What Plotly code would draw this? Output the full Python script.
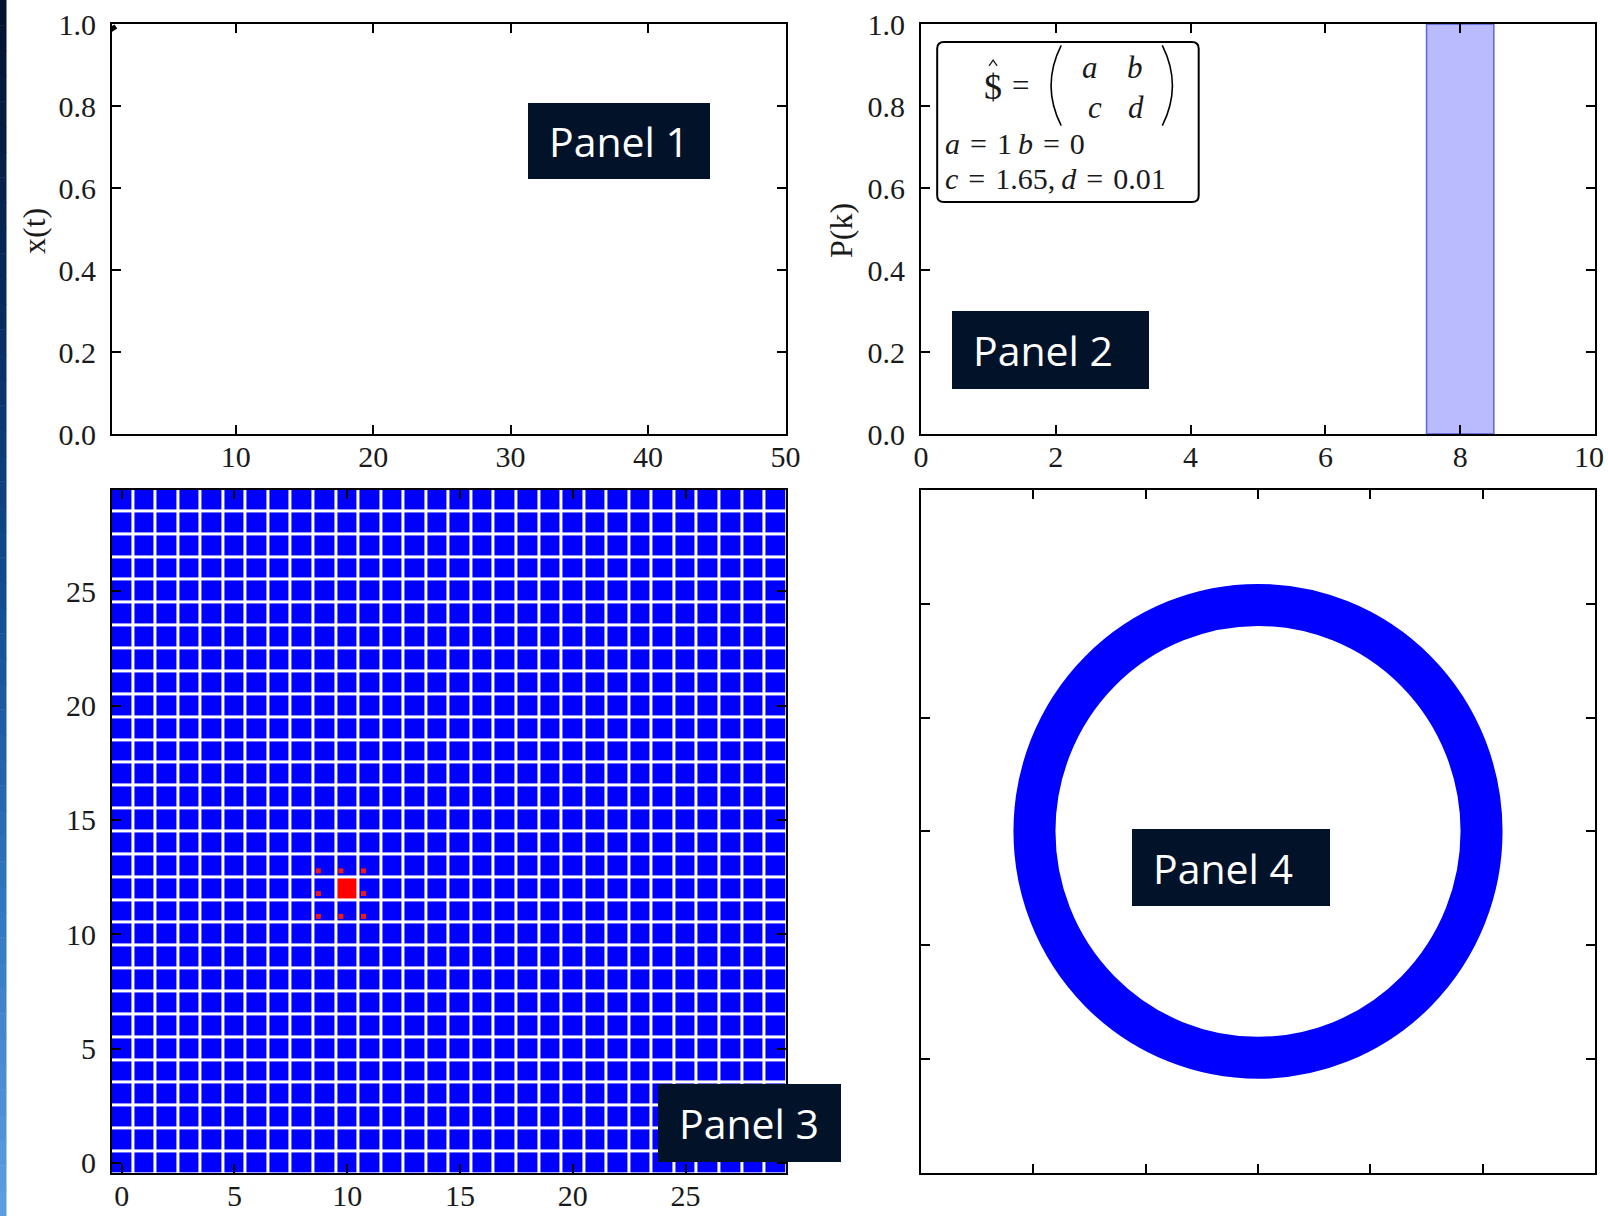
import numpy as np
import plotly.graph_objects as go

W, H = 1608, 1216

# ---- data -------------------------------------------------------------
# Panel 1: start of the trajectory x(t)
traj_t = [1.0, 1.2]
traj_x = [0.995, 0.985]
p1_xticks = [10, 20, 30, 40, 50]
p1_yticks = [0.0, 0.2, 0.4, 0.6, 0.8, 1.0]

# Panel 2: highlighted k band
band_k = [7.5, 8.5]
p2_xticks = [0, 2, 4, 6, 8, 10]
p2_yticks = [0.0, 0.2, 0.4, 0.6, 0.8, 1.0]

# Panel 3: lattice state (all sites 0, one active site)
grid_size = 30
active_site = [10, 12]
neigh_x = [8.72, 9.72, 10.72, 8.72, 10.72, 8.72, 9.72, 10.72]
neigh_y = [12.77, 12.77, 12.77, 11.78, 11.78, 10.78, 10.78, 10.78]
p3_ticks = [0, 5, 10, 15, 20, 25]

# Panel 4: circular orbit
ring_center = [0.0, 0.0]
ring_radius = 1.99
p4_ticks = [-2, -1, 0, 1, 2]

# ---- helpers ----------------------------------------------------------
SERIF = "Liberation Serif"
INK = "#1a1a1a"
TICKFONT = dict(family=SERIF, size=30, color=INK)


def px_x(p):
    return p / W


def px_y(p):
    return 1 - p / H


def axis(domain, anchor, rng, ticks, labels=True, fmt=None, standoff=0, text=None):
    d = dict(
        domain=domain, anchor=anchor, range=rng, automargin=False,
        showline=True, linecolor="black", linewidth=2, mirror="ticks",
        ticks="inside", ticklen=9, tickwidth=1.5, tickcolor="black",
        showgrid=False, zeroline=False, tickvals=ticks,
        showticklabels=labels, tickfont=TICKFONT,
        ticklabeloverflow="allow", ticklabelstandoff=standoff,
    )
    if fmt:
        d["tickformat"] = fmt
    if text is not None:
        d["ticktext"] = text
    return d


# panel boxes in pixels (left, right, top, bottom)
P_LEFT = (112, 785.5)
P_RIGHT = (921, 1595)
P_TOP = (24, 434)
P_BOT = (490, 1172.7)

dx_l = [px_x(P_LEFT[0]), px_x(P_LEFT[1])]
dx_r = [px_x(P_RIGHT[0]), px_x(P_RIGHT[1])]
dy_t = [px_y(P_TOP[1]), px_y(P_TOP[0])]
dy_b = [px_y(P_BOT[1]), px_y(P_BOT[0])]

XS, YS = -5, 8  # tick label offsets

# the last k label sits at the page edge, so it is placed as its own text
p2_xtext = [str(v) for v in p2_xticks[:-1]] + [""]

fig = go.Figure()

# Panel 1
fig.add_trace(go.Scatter(x=traj_t, y=traj_x, mode="lines",
                         line=dict(color="black", width=6),
                         xaxis="x", yaxis="y", showlegend=False))

# Panel 3 lattice
z = np.zeros((grid_size, grid_size))
z[active_site[1], active_site[0]] = 1.0
fig.add_trace(go.Heatmap(z=z, x=list(range(grid_size)), y=list(range(grid_size)),
                         colorscale=[[0, "#0000ff"], [1, "#ff0000"]],
                         zmin=0, zmax=1, showscale=False, xgap=3, ygap=3,
                         hoverinfo="skip", xaxis="x3", yaxis="y3"))
fig.add_trace(go.Scatter(x=neigh_x, y=neigh_y, mode="markers",
                         marker=dict(symbol="square", size=5, color="#f01818"),
                         xaxis="x3", yaxis="y3", showlegend=False))

# empty traces so that panels 2 and 4 get their axes
fig.add_trace(go.Scatter(x=[None], y=[None], xaxis="x2", yaxis="y2", showlegend=False))
fig.add_trace(go.Scatter(x=[None], y=[None], xaxis="x4", yaxis="y4", showlegend=False))

fig.update_layout(
    width=W, height=H, autosize=False,
    margin=dict(l=0, r=0, t=0, b=0, pad=0),
    paper_bgcolor="white", plot_bgcolor="white",
    showlegend=False,
    xaxis=axis(dx_l, "y", [1, 50], p1_xticks, standoff=XS),
    yaxis=axis(dy_t, "x", [0, 1], p1_yticks, fmt=".1f", standoff=YS),
    xaxis2=axis(dx_r, "y2", [0, 10], p2_xticks, standoff=XS, text=p2_xtext),
    yaxis2=axis(dy_t, "x2", [0, 1], p2_yticks, fmt=".1f", standoff=YS),
    xaxis3=axis(dx_l, "y3", [-0.43, 29.43], p3_ticks, standoff=XS),
    yaxis3=axis(dy_b, "x3", [-0.43, 29.43], p3_ticks, standoff=YS),
    xaxis4=axis(dx_r, "y4", [-3, 3], p4_ticks, labels=False),
    yaxis4=axis(dy_b, "x4", [-3, 3], p4_ticks, labels=False),
)

shapes = []

# band in panel 2
shapes.append(dict(type="rect", xref="x2", yref="y2 domain",
                   x0=band_k[0], x1=band_k[1], y0=0, y1=1,
                   fillcolor="rgba(0,0,255,0.27)",
                   line=dict(color="rgba(30,40,210,0.65)", width=1.5),
                   layer="below"))

# orbit ring in panel 4
shapes.append(dict(type="circle", xref="x4", yref="y4",
                   x0=ring_center[0] - ring_radius, x1=ring_center[0] + ring_radius,
                   y0=ring_center[1] - ring_radius, y1=ring_center[1] + ring_radius,
                   line=dict(color="#0000ff", width=42), layer="below"))

# rounded text box in panel 2
bx0, bx1, by0, by1 = 0.24, 4.12, 0.566, 0.956
rx, ry = 0.1, 0.016
box_path = (f"M {bx0+rx},{by1} L {bx1-rx},{by1} Q {bx1},{by1} {bx1},{by1-ry} "
            f"L {bx1},{by0+ry} Q {bx1},{by0} {bx1-rx},{by0} "
            f"L {bx0+rx},{by0} Q {bx0},{by0} {bx0},{by0+ry} "
            f"L {bx0},{by1-ry} Q {bx0},{by1} {bx0+rx},{by1} Z")
shapes.append(dict(type="path", xref="x2", yref="y2", path=box_path,
                   fillcolor="white", line=dict(color="black", width=2)))
# matrix parentheses
shapes.append(dict(type="path", xref="x2", yref="y2",
                   path="M 2.08,0.948 Q 1.78,0.85 2.08,0.752",
                   line=dict(color="black", width=1.6)))
shapes.append(dict(type="path", xref="x2", yref="y2",
                   path="M 3.58,0.948 Q 3.88,0.85 3.58,0.752",
                   line=dict(color="black", width=1.6)))
# hat over the operator symbol
shapes.append(dict(type="path", xref="x2", yref="y2",
                   path="M 1.01,0.898 L 1.07,0.912 L 1.13,0.898",
                   line=dict(color=INK, width=1.3)))

# slide background strip on the left edge
strip_stops = [(0, (3, 18, 45)), (300, (8, 42, 92)), (600, (18, 78, 145)),
               (900, (48, 118, 192)), (1216, (92, 160, 226))]
n_bands = 48
for i in range(n_bands):
    y0p = H * i / n_bands
    y1p = H * (i + 1) / n_bands
    ym = (y0p + y1p) / 2
    for (ya, ca), (yb, cb) in zip(strip_stops[:-1], strip_stops[1:]):
        if ya <= ym <= yb:
            f = (ym - ya) / (yb - ya)
            c = tuple(int(round(ca[k] + f * (cb[k] - ca[k]))) for k in range(3))
            break
    shapes.append(dict(type="rect", xref="paper", yref="paper",
                       x0=0, x1=px_x(6.5), y0=px_y(min(H, y1p + 0.5)), y1=px_y(y0p),
                       fillcolor=f"rgb{c}", line=dict(width=0)))

# dark panel label boxes
label_boxes = [
    ("Panel 1", 528, 710, 103, 179),
    ("Panel 2", 952, 1149, 311, 389),
    ("Panel 3", 658, 841, 1084, 1162),
    ("Panel 4", 1132, 1330, 829, 906),
]
for _, l, r, t, b in label_boxes:
    shapes.append(dict(type="rect", xref="paper", yref="paper",
                       x0=px_x(l), x1=px_x(r), y0=px_y(b), y1=px_y(t),
                       fillcolor="#021229", line=dict(width=0), layer="above"))

annotations = []
for text, l, r, t, b in label_boxes:
    annotations.append(dict(xref="paper", yref="paper", x=px_x(l + 19), y=px_y((t + b) / 2),
                            xanchor="left", yanchor="middle", showarrow=False, text=text,
                            font=dict(family="Open Sans", size=41, color="white")))

# last k tick label, kept inside the page
annotations.append(dict(xref="x2", yref="y2", x=p2_xticks[-1], y=0, text=str(p2_xticks[-1]),
                        showarrow=False, xanchor="right", yanchor="middle",
                        xshift=11, yshift=-22, font=TICKFONT))

# axis titles
annotations.append(dict(xref="paper", yref="paper", x=px_x(34), y=px_y(231), text="x(t)",
                        textangle=-90, showarrow=False, xanchor="center", yanchor="middle",
                        font=dict(family=SERIF, size=32, color=INK)))
annotations.append(dict(xref="paper", yref="paper", x=px_x(841), y=px_y(231), text="P(k)",
                        textangle=-90, showarrow=False, xanchor="center", yanchor="middle",
                        font=dict(family=SERIF, size=32, color=INK)))


def math(x, y, text, anchor="center", size=31):
    annotations.append(dict(xref="x2", yref="y2", x=x, y=y, text=text, showarrow=False,
                            xanchor=anchor, yanchor="middle",
                            font=dict(family=SERIF, size=size, color=INK)))


math(1.07, 0.846, "$", size=36)
math(1.48, 0.849, "=")
math(2.51, 0.893, "<i>a</i>")
math(3.18, 0.893, "<i>b</i>")
math(2.58, 0.797, "<i>c</i>")
math(3.19, 0.797, "<i>d</i>")
math(0.33, 0.709, "<i>a</i>\u2004=\u20041\u2009<i>b</i>\u2004=\u20040", anchor="left", size=30)
math(0.33, 0.624, "<i>c</i>\u2004=\u20041.65,\u2009<i>d</i>\u2004=\u20040.01", anchor="left", size=30)

fig.update_layout(shapes=shapes, annotations=annotations)

fig.write_html("out.html")
